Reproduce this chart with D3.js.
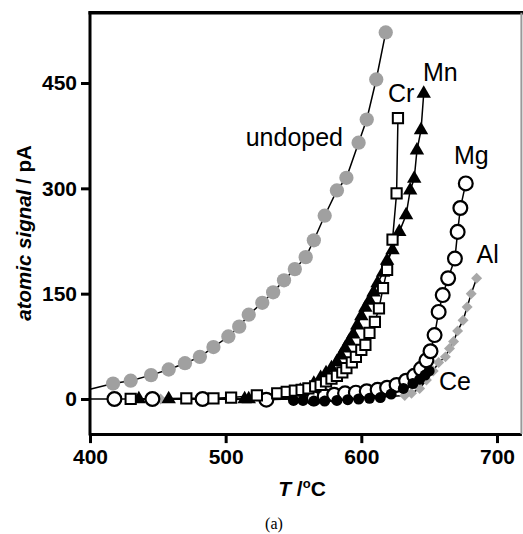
<!DOCTYPE html>
<html><head><meta charset="utf-8">
<script src="https://cdn.jsdelivr.net/npm/d3@7"></script>
<style>html,body{margin:0;padding:0;background:#fff;}svg{display:block;}</style>
</head><body>
<svg id="chart" width="523" height="534"></svg>
<script>
// ---- data ----
const xTicks = [400, 500, 600, 700];
const yTicks = [0, 150, 300, 450];

const undopedT = [417, 430, 445, 458, 470, 481, 491, 502, 510, 517, 527, 535, 543, 551, 559, 565, 573, 582, 589, 598, 604, 611, 618];
const undopedV = [22, 26, 34, 42, 51, 60, 74, 89, 103, 120, 137, 152, 169, 185, 202, 226, 261, 297, 315, 365, 398, 455, 522];
const undopedLeadT = [400];
const undopedLeadV = [14];

const crT = [430, 471, 491, 504, 523, 538, 545, 551, 556, 561, 566, 570, 574, 578, 582, 586, 589, 593, 596, 600, 603, 606, 610, 613, 616, 619, 623, 626, 627];
const crV = [0, 1, 1, 2, 5, 8, 10, 12, 13, 15, 18, 20, 25, 29, 33, 38, 44, 52, 60, 70, 77, 94, 110, 129, 158, 184, 227, 293, 400];

const mnT = [436, 458, 514, 517, 540, 555, 565, 570, 574, 578, 582, 585, 588, 591, 594, 597, 600, 603, 606, 609, 612, 616, 619, 623, 628, 633, 636, 639, 641, 644, 646];
const mnV = [0, 0, 0, 0, 5, 12, 22, 30, 37, 44, 53, 62, 72, 82, 92, 105, 118, 130, 140, 152, 165, 180, 197, 212, 238, 262, 297, 314, 354, 383, 435];

const mgT = [418, 446, 483, 530, 565, 573, 580, 588, 596, 604, 612, 619, 626, 633, 639, 644, 648, 651, 654, 657, 660, 664, 669, 671, 673, 677];
const mgV = [0, 0, 0, -1, 1, 4, 6, 8, 9, 11, 13, 16, 20, 26, 33, 43, 55, 68, 91, 124, 148, 172, 200, 238, 272, 307];
const mgLeadT = [400];
const mgLeadV = [0];

const ceT = [550, 557, 565, 573, 582, 590, 598, 606, 614, 622, 631, 638, 643, 647, 650];
const ceV = [-2, -2, -3, -3, -2, -1, 0, 1, 2, 7, 15, 22, 28, 34, 40];

const alT = [452, 530, 600, 632, 637, 643, 648, 653, 657, 662, 665, 668, 671, 675, 678, 681, 685];
const alV = [0, 0, 1, 5, 8, 15, 27, 40, 52, 60, 72, 82, 97, 112, 131, 150, 172];

// series labels and where they sit (in data units)
const labels = ["undoped", "Cr", "Mn", "Mg", "Al", "Ce"];
const labelT = [586.5, 619.6, 645.4, 668.3, 684.9, 657.2];
const labelV = [361, 423, 453, 334, 193, 13];
const labelAnchor = ["end", "start", "start", "start", "start", "start"];

// ---- chart ----
const svg = d3.select("#chart");
const x = d3.scaleLinear().domain([400, 718]).range([90, 521.4]);
const y = d3.scaleLinear().domain([-50, 550]).range([434.1, 12.8]);

const zip = (a, b) => a.map((t, i) => ({t, v: b[i]}));
const series = [
  {name: "undoped", pts: zip(undopedT, undopedV), lead: zip(undopedLeadT, undopedLeadV), sym: d3.symbolCircle, size: 160, fill: "#a0a0a0", stroke: "none", sw: 0, rot: 0},
  {name: "Al", pts: zip(alT, alV), lead: [], sym: d3.symbolSquare, size: 60, fill: "#a8a8a8", stroke: "none", sw: 0, rot: 45},
  {name: "Mg", pts: zip(mgT, mgV), lead: zip(mgLeadT, mgLeadV), sym: d3.symbolCircle, size: 150, fill: "#fff", stroke: "#000", sw: 2.2, rot: 0},
  {name: "Ce", pts: zip(ceT, ceV), lead: [], sym: d3.symbolCircle, size: 95, fill: "#000", stroke: "none", sw: 0, rot: 0},
  {name: "Mn", pts: zip(mnT, mnV), lead: [], sym: d3.symbolTriangle, size: 90, fill: "#000", stroke: "none", sw: 0, rot: 0},
  {name: "Cr", pts: zip(crT, crV), lead: [], sym: d3.symbolSquare, size: 105, fill: "#fff", stroke: "#000", sw: 2, rot: 0}
];

const line = d3.line().x(d => x(d.t)).y(d => y(d.v));

// lines
svg.append("g").selectAll("path").data(series).join("path")
  .attr("d", s => line(s.lead.concat(s.pts)))
  .attr("fill", "none").attr("stroke", "#000").attr("stroke-width", 1.5);

// markers
series.forEach(s => {
  svg.append("g").selectAll("path").data(s.pts).join("path")
    .attr("d", d3.symbol().type(s.sym).size(s.size))
    .attr("transform", d => `translate(${x(d.t)},${y(d.v)}) rotate(${s.rot})`)
    .attr("fill", s.fill).attr("stroke", s.stroke).attr("stroke-width", s.sw);
});

// axes
const font = "'Liberation Sans', Arial, sans-serif";
const yAxis = svg.append("g").attr("transform", `translate(${x(400)},0)`)
  .call(d3.axisLeft(y).tickValues(yTicks).tickSize(9).tickPadding(4).tickSizeOuter(0));
const xAxis = svg.append("g").attr("transform", `translate(0,${y(-50)})`)
  .call(d3.axisBottom(x).tickValues(xTicks).tickSize(9).tickPadding(6).tickSizeOuter(0));
[yAxis, xAxis].forEach(a => {
  a.select(".domain").attr("stroke", "#000").attr("stroke-width", 3);
  a.selectAll(".tick line").attr("stroke", "#000").attr("stroke-width", 3);
  a.selectAll(".tick text").attr("font-family", font).attr("font-weight", "bold").attr("font-size", 21).attr("fill", "#000");
});
yAxis.select(".domain").attr("d", `M0,${y(550) - 1.5}V${y(-50) + 1.5}`);
// top frame
svg.append("line").attr("x1", x(400) - 1.5).attr("x2", 523).attr("y1", y(550)).attr("y2", y(550))
  .attr("stroke", "#000").attr("stroke-width", 3.5);
// right frame (partly clipped, grey)
svg.append("line").attr("x1", x(718)).attr("x2", x(718)).attr("y1", y(550)).attr("y2", y(-50))
  .attr("stroke", "#999").attr("stroke-width", 2);

// series labels
svg.append("g").selectAll("text").data(labels).join("text")
  .attr("x", (d, i) => x(labelT[i])).attr("y", (d, i) => y(labelV[i]))
  .attr("text-anchor", (d, i) => labelAnchor[i])
  .attr("font-family", font).attr("font-size", 25).attr("fill", "#000")
  .text(d => d);

// axis titles
const yl = svg.append("text").attr("transform", "translate(31,233) rotate(-90)")
  .attr("text-anchor", "middle").attr("font-family", font).attr("font-weight", "bold").attr("font-size", 20.5);
yl.append("tspan").attr("font-style", "italic").text("atomic signal");
yl.append("tspan").text(" / pA");

const xl = svg.append("text").attr("x", 302).attr("y", 496)
  .attr("text-anchor", "middle").attr("font-family", font).attr("font-weight", "bold").attr("font-size", 21);
xl.append("tspan").attr("font-style", "italic").text("T");
xl.append("tspan").text(" /");
xl.append("tspan").attr("font-size", 13).attr("dy", -8).text("o");
xl.append("tspan").attr("dy", 8).text("C");

svg.append("text").attr("x", 274).attr("y", 529).attr("text-anchor", "middle")
  .attr("font-family", "'Liberation Serif', 'Times New Roman', serif").attr("font-size", 16).text("(a)");
</script>
</body></html>
